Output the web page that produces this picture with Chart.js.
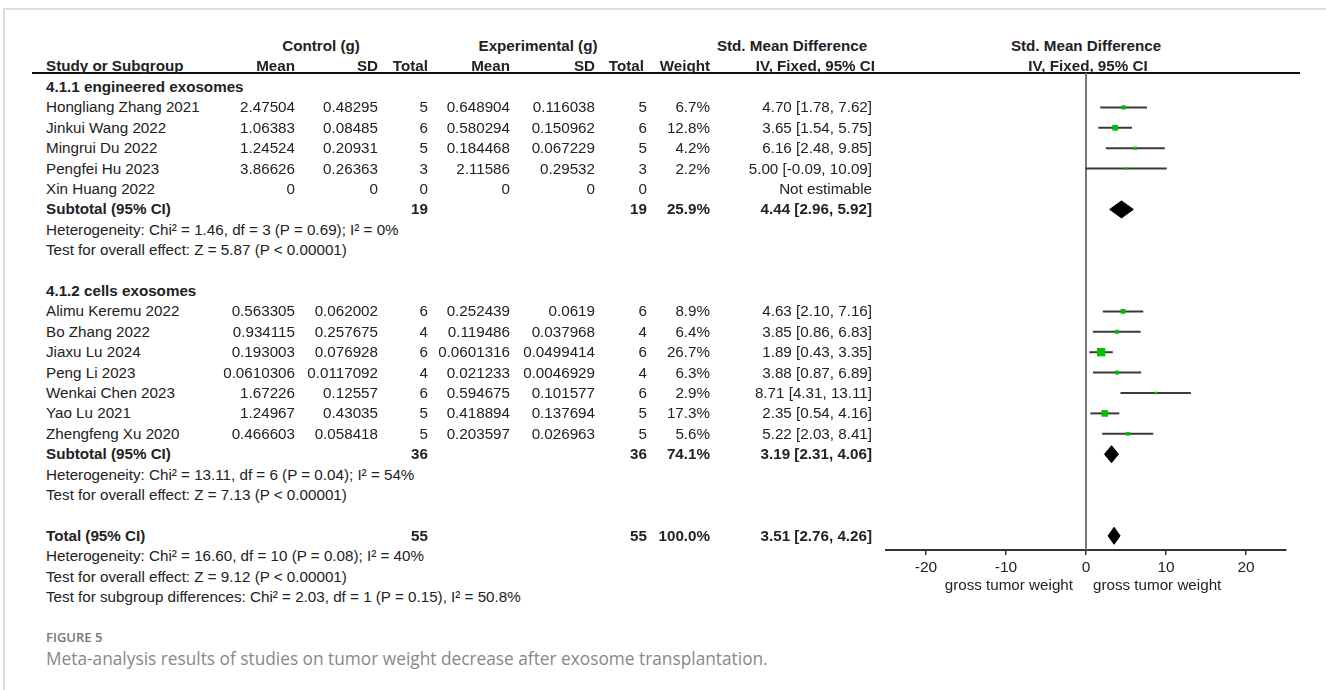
<!DOCTYPE html>
<html>
<head>
<meta charset="utf-8">
<script src="https://cdn.jsdelivr.net/npm/chart.js@4.4.1/dist/chart.umd.min.js"></script>
<style>
  body { margin:0; background:#fff; width:1326px; height:690px; overflow:hidden; position:relative;
         font-family:"Liberation Sans", Arial, sans-serif; font-size:15.2px; color:#222; }
  .t { position:absolute; white-space:nowrap; line-height:20px; height:20px; }
  .b { font-weight:bold; }
  #frameTop { position:absolute; left:4px; top:8px; width:1322px; height:2px; background:#dcdcdc; }
  #frameLeft { position:absolute; left:3px; top:8px; width:2px; height:682px; background:#dcdcdc; }
  #hline { position:absolute; left:32px; top:72px; width:1268px; height:2px; background:#111; }
  #wrap { position:absolute; left:870px; top:60px; width:440px; height:530px; }
  .fig { position:absolute; left:46px; top:628px; font-family:"Open Sans", sans-serif; font-size:13px; font-weight:600; color:#777; }
  .cap { position:absolute; left:46px; top:647px; font-family:"Open Sans", sans-serif; font-size:17.3px; color:#888; white-space:nowrap; }
</style>
</head>
<body>
<div id="frameTop"></div>
<div id="frameLeft"></div>
<div id="hline"></div>
<div id="wrap"><canvas id="forest" width="440" height="530"></canvas></div>
<div class="fig">FIGURE 5</div>
<div class="cap">Meta-analysis results of studies on tumor weight decrease after exosome transplantation.</div>
<script>
// studies
var studies = ['Hongliang Zhang 2021','Jinkui Wang 2022','Mingrui Du 2022','Pengfei Hu 2023','Xin Huang 2022',
               'Alimu Keremu 2022','Bo Zhang 2022','Jiaxu Lu 2024','Peng Li 2023','Wenkai Chen 2023','Yao Lu 2021','Zhengfeng Xu 2020'];
var studyRow = [1,2,3,4,5, 11,12,13,14,15,16,17];
var ctrlMean = ['2.47504','1.06383','1.24524','3.86626','0','0.563305','0.934115','0.193003','0.0610306','1.67226','1.24967','0.466603'];
var ctrlSD = ['0.48295','0.08485','0.20931','0.26363','0','0.062002','0.257675','0.076928','0.0117092','0.12557','0.43035','0.058418'];
var ctrlN = [5,6,5,3,0,6,4,6,4,6,5,5];
var expMean = ['0.648904','0.580294','0.184468','2.11586','0','0.252439','0.119486','0.0601316','0.021233','0.594675','0.418894','0.203597'];
var expSD = ['0.116038','0.150962','0.067229','0.29532','0','0.0619','0.037968','0.0499414','0.0046929','0.101577','0.137694','0.026963'];
var expN = [5,6,5,3,0,6,4,6,4,6,5,5];
var weight = [6.7,12.8,4.2,2.2,null,8.9,6.4,26.7,6.3,2.9,17.3,5.6];
var smd = [4.70,3.65,6.16,5.00,null,4.63,3.85,1.89,3.88,8.71,2.35,5.22];
var ciLo = [1.78,1.54,2.48,-0.09,null,2.10,0.86,0.43,0.87,4.31,0.54,2.03];
var ciHi = [7.62,5.75,9.85,10.09,null,7.16,6.83,3.35,6.89,13.11,4.16,8.41];

// pooled rows (subtotals and total)
var pooledLabel = ['Subtotal (95% CI)','Subtotal (95% CI)','Total (95% CI)'];
var pooledRow = [6,18,22];
var pooledN = [19,36,55];
var pooledWeight = ['25.9%','74.1%','100.0%'];
var pooledSmd = [4.44,3.19,3.51];
var pooledLo = [2.96,2.31,2.76];
var pooledHi = [5.92,4.06,4.26];

var groupTitles = ['4.1.1 engineered exosomes','4.1.2 cells exosomes'];
var groupRow = [0,10];
var notes = ['Heterogeneity: Chi² = 1.46, df = 3 (P = 0.69); I² = 0%','Test for overall effect: Z = 5.87 (P < 0.00001)',
             'Heterogeneity: Chi² = 13.11, df = 6 (P = 0.04); I² = 54%','Test for overall effect: Z = 7.13 (P < 0.00001)',
             'Heterogeneity: Chi² = 16.60, df = 10 (P = 0.08); I² = 40%','Test for overall effect: Z = 9.12 (P < 0.00001)',
             'Test for subgroup differences: Chi² = 2.03, df = 1 (P = 0.15), I² = 50.8%'];
var noteRow = [7,8,19,20,23,24,25];
var xTicks = [-20,-10,0,10,20];

var rowTop = 87, rowH = 20.4;
function rowY(i) { return rowTop + rowH * i; }

function put(txt, x, y, align, bold) {
  var d = document.createElement('div');
  d.className = 't' + (bold ? ' b' : '');
  d.textContent = txt;
  if (align === 'r') d.style.right = (1326 - x) + 'px';
  else if (align === 'c') { d.style.left = x + 'px'; d.style.transform = 'translateX(-50%)'; }
  else d.style.left = x + 'px';
  d.style.top = (y - 10) + 'px';
  document.body.appendChild(d);
}
function ciText(m, lo, hi) {
  if (m == null) return 'Not estimable';
  return m.toFixed(2) + ' [' + lo.toFixed(2) + ', ' + hi.toFixed(2) + ']';
}

// headers
put('Control (g)', 321, 46, 'c', true);
put('Experimental (g)', 538, 46, 'c', true);
put('Std. Mean Difference', 792, 46, 'c', true);
put('Std. Mean Difference', 1086, 46, 'c', true);
put('Study or Subgroup', 46, 66, 'l', true);
put('Mean', 295, 66, 'r', true);
put('SD', 378, 66, 'r', true);
put('Total', 428, 66, 'r', true);
put('Mean', 510, 66, 'r', true);
put('SD', 595, 66, 'r', true);
put('Total', 644, 66, 'r', true);
put('Weight', 710, 66, 'r', true);
put('IV, Fixed, 95% CI', 875, 66, 'r', true);
put('IV, Fixed, 95% CI', 1088, 66, 'c', true);

groupTitles.forEach(function(g, i) { put(g, 46, rowY(groupRow[i]), 'l', true); });
studies.forEach(function(s, i) {
  var y = rowY(studyRow[i]);
  put(s, 46, y, 'l');
  put(ctrlMean[i], 295, y, 'r');
  put(ctrlSD[i], 378, y, 'r');
  put(String(ctrlN[i]), 428, y, 'r');
  put(expMean[i], 510, y, 'r');
  put(expSD[i], 595, y, 'r');
  put(String(expN[i]), 647, y, 'r');
  if (weight[i] != null) put(weight[i].toFixed(1) + '%', 710, y, 'r');
  put(ciText(smd[i], ciLo[i], ciHi[i]), 872, y, 'r');
});
pooledLabel.forEach(function(p, i) {
  var y = rowY(pooledRow[i]);
  put(p, 46, y, 'l', true);
  put(String(pooledN[i]), 428, y, 'r', true);
  put(String(pooledN[i]), 647, y, 'r', true);
  put(pooledWeight[i], 710, y, 'r', true);
  put(ciText(pooledSmd[i], pooledLo[i], pooledHi[i]), 872, y, 'r', true);
});
notes.forEach(function(n, i) { put(n, 46, rowY(noteRow[i]), 'l'); });
put('gross tumor weight', 1073, 585, 'r');
put('gross tumor weight', 1093, 585, 'l');

// chart
var yMin = (73 - rowTop) / rowH, yMax = (550 - rowTop) / rowH;
var datasets = [];
var markers = [], sizes = [];
studies.forEach(function(s, i) {
  if (smd[i] == null) return;
  markers.push({x: smd[i], y: studyRow[i]});
  sizes.push(1.6 * Math.sqrt(weight[i]) / Math.SQRT2);
});
datasets.push({type:'scatter', data:markers, pointStyle:'rect', pointRadius:sizes, pointBorderWidth:0,
               backgroundColor:'#00c000', borderColor:'#00c000'});
var dh = 8.5 / rowH;
pooledSmd.forEach(function(m, i) {
  var r = pooledRow[i];
  datasets.push({type:'line', data:[{x:pooledLo[i],y:r},{x:m,y:r-dh},{x:pooledHi[i],y:r},{x:m,y:r+dh},{x:pooledLo[i],y:r}],
                 borderColor:'#000', backgroundColor:'#000', borderWidth:1, pointRadius:0, fill:'shape', tension:0});
});
studies.forEach(function(s, i) {
  if (smd[i] == null) return;
  datasets.push({type:'line', data:[{x:ciLo[i],y:studyRow[i]},{x:ciHi[i],y:studyRow[i]}],
                 borderColor:'#3a3a3a', borderWidth:2, pointRadius:0, fill:false});
});
datasets.push({type:'line', data:[{x:0,y:yMin},{x:0,y:yMax}], borderColor:'#777', borderWidth:2, pointRadius:0, fill:false});

new Chart(document.getElementById('forest'), {
  type: 'scatter',
  data: { datasets: datasets },
  options: {
    responsive: false,
    animation: false,
    devicePixelRatio: 1,
    layout: { padding: { left:16, right:24, top:13, bottom:10 } },
    plugins: { legend: { display:false }, tooltip: { enabled:false } },
    scales: {
      x: {
        type: 'linear', min: -25, max: 25,
        afterBuildTicks: function(s) { s.ticks = xTicks.map(function(v) { return {value:v}; }); },
        afterFit: function(s) { s.height = 30; },
        grid: { display:true, drawOnChartArea:false, drawTicks:true, tickLength:5, color:'#333', lineWidth:1.5 },
        border: { display:true, color:'#333', width:2 },
        ticks: { color:'#222', padding:3, maxRotation:0, font: { family:'Liberation Sans', size:15.5 } }
      },
      y: { type:'linear', min:yMin, max:yMax, reverse:true, display:false }
    }
  }
});
</script>
</body>
</html>
